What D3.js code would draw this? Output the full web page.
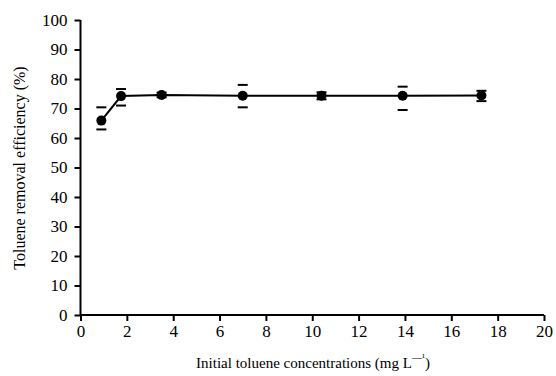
<!DOCTYPE html>
<html>
<head>
<meta charset="utf-8">
<script src="https://cdn.jsdelivr.net/npm/d3@7"></script>
<style>
	body { margin: 0; background: #fff; }
</style>
</head>
<body>
<div id="chart"></div>
<script>
// data
var concentrations = [0.9, 1.75, 3.5, 7.0, 10.4, 13.9, 17.3]
var efficiency = [65.9, 74.2, 74.6, 74.3, 74.3, 74.3, 74.4]
var errLow = [3.0, 3.2, 0.8, 3.9, 1.2, 4.8, 1.9]
var errHigh = [4.5, 2.4, 0.8, 3.7, 1.2, 3.1, 1.6]
var xTicks = [0, 2, 4, 6, 8, 10, 12, 14, 16, 18, 20]
var yTicks = [0, 10, 20, 30, 40, 50, 60, 70, 80, 90, 100]

var width = 556
var height = 376
var font = "'Liberation Serif'"
var margin = { top: 20, left: 80.5 }
var w = 544 - margin.left
var h = 315 - margin.top

var svg = d3.select("#chart")
	.append("svg")
	.attr("width", width)
	.attr("height", height)

var g = svg.append("g")
	.attr("transform", "translate(" + margin.left + "," + margin.top + ")")

var x = d3.scaleLinear().domain([0, 20]).range([0, w])
var y = d3.scaleLinear().domain([0, 100]).range([h, 0])

// axes
var xAxis = g.append("g")
	.attr("transform", "translate(0," + h + ")")
	.call(d3.axisBottom(x).tickValues(xTicks).tickSize(6).tickPadding(4))
var yAxis = g.append("g")
	.call(d3.axisLeft(y).tickValues(yTicks).tickSize(6).tickPadding(7))

;[xAxis, yAxis].forEach(function (a) {
	a.attr("font-family", null).attr("font-size", null)
	a.select(".domain").attr("stroke", "#000").attr("stroke-width", 2)
	a.selectAll(".tick line").attr("stroke", "#000").attr("stroke-width", 2)
	a.selectAll(".tick text")
		.attr("fill", "#000")
		.style("font-size", "17px")
		.style("font-family", font)
})
xAxis.select(".domain").attr("d", "M0,0H" + w)
yAxis.select(".domain").attr("d", "M0," + h + "V0")

// line
var pts = concentrations.map(function (c, i) { return { x: c, y: efficiency[i], lo: errLow[i], hi: errHigh[i] } })

g.append("path")
	.datum(pts)
	.attr("fill", "none")
	.attr("stroke", "#000")
	.attr("stroke-width", 2)
	.attr("d", d3.line()
		.x(function (d) { return x(d.x) })
		.y(function (d) { return y(d.y) }))

// error caps (short bars, no stem)
var caps = g.selectAll(".cap")
	.data(pts)
	.enter()
	.append("g")
caps.append("line")
	.attr("x1", function (d) { return x(d.x) - 5 })
	.attr("x2", function (d) { return x(d.x) + 5 })
	.attr("y1", function (d) { return y(d.y + d.hi) })
	.attr("y2", function (d) { return y(d.y + d.hi) })
	.attr("stroke", "#000")
	.attr("stroke-width", 2)
caps.append("line")
	.attr("x1", function (d) { return x(d.x) - 5 })
	.attr("x2", function (d) { return x(d.x) + 5 })
	.attr("y1", function (d) { return y(d.y - d.lo) })
	.attr("y2", function (d) { return y(d.y - d.lo) })
	.attr("stroke", "#000")
	.attr("stroke-width", 2)

// markers
g.selectAll(".dot")
	.data(pts)
	.enter()
	.append("circle")
	.attr("cx", function (d) { return x(d.x) })
	.attr("cy", function (d) { return y(d.y) })
	.attr("r", 5)
	.attr("fill", "#000")

// axis titles
var xt = svg.append("text")
	.attr("x", 313)
	.attr("y", 368)
	.attr("text-anchor", "middle")
	.style("font-family", font)
	.style("font-size", "15px")
xt.append("tspan").text("Initial toluene concentrations (mg L")
xt.append("tspan").attr("dy", -7).style("font-size", "10px").text("\u2014\u00b9")
xt.append("tspan").attr("dy", 7).text(")")

svg.append("text")
	.attr("transform", "translate(25,168) rotate(-90)")
	.attr("text-anchor", "middle")
	.style("font-family", font)
	.style("font-size", "16px")
	.text("Toluene removal efficiency (%)")
</script>
</body>
</html>
